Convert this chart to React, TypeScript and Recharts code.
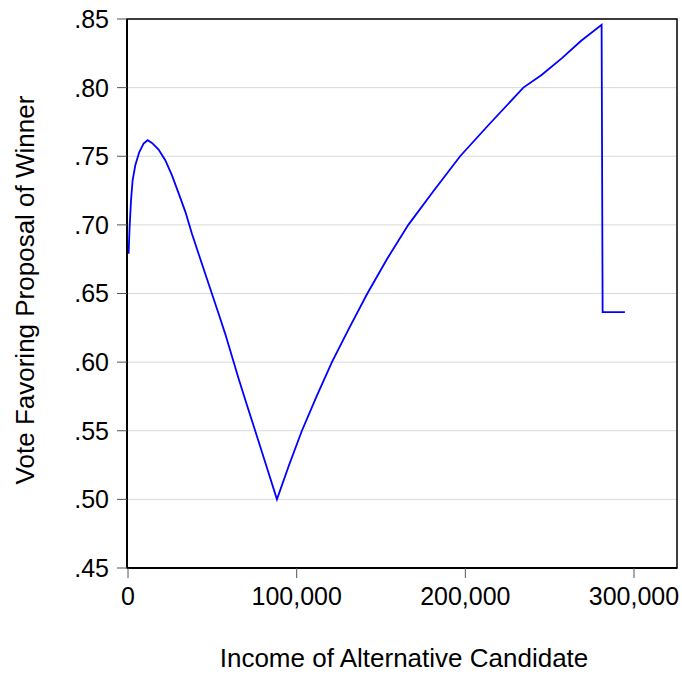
import { LineChart, Line, XAxis, YAxis, CartesianGrid, ReferenceArea } from "recharts";

const income = [
  350, 950, 1780, 2730, 4320, 6690, 9240, 11610, 14220, 18130, 22100, 26070,
  30090, 34060, 37910, 41830, 45790, 49760, 53730, 57640, 60600, 63570, 65640,
  70500, 75400, 82000, 88300, 95500, 103100, 111800, 120900, 131200, 141900,
  153500, 166200, 180700, 196900, 214300, 234400, 245000, 257300, 268500,
  280800, 281400, 294600,
];
const vote = [
  0.679, 0.6984, 0.7179, 0.7325, 0.7434, 0.7531, 0.7593, 0.7617, 0.7597,
  0.7549, 0.7471, 0.7361, 0.7228, 0.7093, 0.6936, 0.679, 0.6644, 0.6498,
  0.6352, 0.6206, 0.6084, 0.5962, 0.5877, 0.5688, 0.55, 0.5245, 0.5, 0.525,
  0.55, 0.575, 0.6, 0.625, 0.65, 0.675, 0.7, 0.724, 0.75, 0.7735, 0.8, 0.809,
  0.8215, 0.834, 0.8458, 0.6364, 0.6364,
];
const xTicks = [0, 100000, 200000, 300000];
const yTicks = [0.45, 0.5, 0.55, 0.6, 0.65, 0.7, 0.75, 0.8, 0.85];

const xTitle = "Income of Alternative Candidate";
const yTitle = "Vote Favoring Proposal of Winner";

const data = income.map((x, i) => ({ x, y: vote[i] }));

const font = "'Liberation Sans', Arial, sans-serif";
const X_MIN = -600;
const X_MAX = 325500;

export default function App() {
  return (
    <div style={{ position: "absolute", left: 0, top: 0 }}>
      <LineChart
        width={682}
        height={679}
        data={data}
        margin={{ top: 19, right: 5, left: 0, bottom: 0 }}
        style={{ fontFamily: font }}
      >
        <CartesianGrid stroke="#d9d9d9" vertical={false} horizontalValues={yTicks} />
        <XAxis
          type="number"
          dataKey="x"
          domain={[X_MIN, X_MAX]}
          ticks={xTicks}
          allowDataOverflow
          height={111}
          tickSize={10}
          tickMargin={9}
          tick={{ fill: "#000", fontSize: 25, fontFamily: font }}
          tickLine={{ stroke: "#555" }}
          axisLine={{ stroke: "#000", strokeWidth: 2 }}
          tickFormatter={(v: number) => v.toLocaleString("en-US")}
          label={{
            content: () => (
              <text x={404} y={667} textAnchor="middle" fontSize={26} fontFamily={font} fill="#000">
                {xTitle}
              </text>
            ),
          }}
        />
        <YAxis
          type="number"
          domain={[0.45, 0.85]}
          ticks={yTicks}
          width={127}
          tickSize={10}
          tickMargin={8}
          tick={{ fill: "#000", fontSize: 25, fontFamily: font }}
          tickLine={{ stroke: "#555" }}
          axisLine={{ stroke: "#000", strokeWidth: 2 }}
          tickFormatter={(v: number) => v.toFixed(2).replace(/^0/, "")}
          label={{
            content: () => (
              <text
                x={34}
                y={290}
                transform="rotate(-90 34 290)"
                textAnchor="middle"
                fontSize={26}
                fontFamily={font}
                fill="#000"
              >
                {yTitle}
              </text>
            ),
          }}
        />
        <ReferenceArea
          x1={X_MIN}
          x2={X_MAX}
          y1={0.45}
          y2={0.85}
          fill="none"
          stroke="#000"
          strokeWidth={1.5}
        />
        <Line
          type="linear"
          dataKey="y"
          stroke="#0000ff"
          strokeWidth={1.8}
          dot={false}
          isAnimationActive={false}
        />
      </LineChart>
    </div>
  );
}
